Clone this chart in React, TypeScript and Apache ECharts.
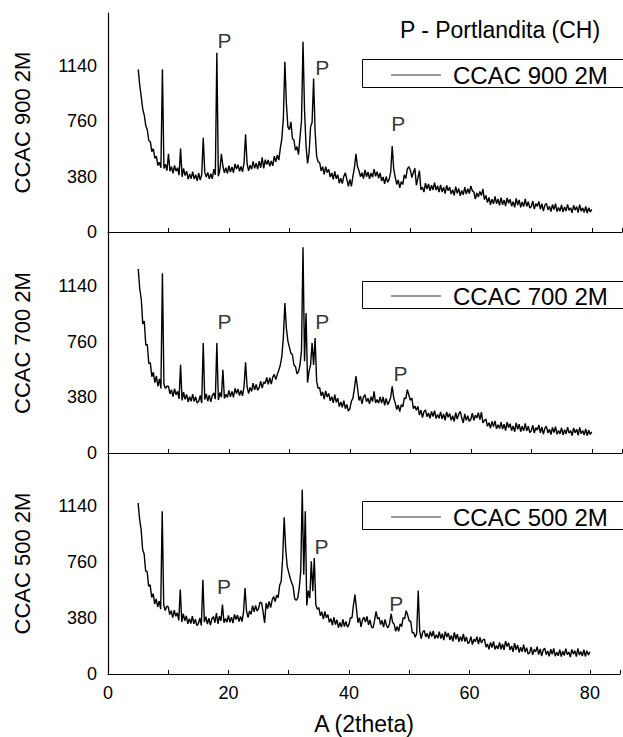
import React, { useEffect, useRef } from 'react';
import * as echarts from 'echarts';

const FONT = '"Liberation Sans", Arial, Helvetica, sans-serif';

// 2theta grid of the scans: first angle and step (degrees)
const X_START = 5;
const X_STEP = 0.25;

// Intensities, 5.00 .. 80.00 deg, step 0.25 deg (20 values per row = 5 deg)
const CCAC900 = [
  1114, 1005, 925, 840, 800, 728, 700, 625, 618, 550, 570, 505, 520, 455, 478, 440, 1114, 435, 465, 420,
  535, 416, 447, 402, 456, 417, 440, 389, 572, 378, 435, 386, 417, 362, 398, 365, 414, 362, 393, 351,
  403, 356, 392, 646, 410, 377, 408, 364, 399, 364, 430, 391, 1228, 382, 425, 535, 452, 405, 440, 401,
  455, 410, 446, 406, 466, 432, 461, 416, 449, 412, 475, 669, 468, 419, 458, 430, 484, 436, 471, 431,
  485, 440, 512, 435, 496, 462, 493, 450, 486, 453, 520, 481, 527, 492, 575, 640, 780, 1166, 880, 720,
  700, 755, 640, 630, 560, 585, 530, 650, 760, 1303, 836, 590, 470, 540, 720, 750, 1052, 690, 520, 480,
  475, 418, 447, 395, 448, 407, 430, 376, 404, 360, 415, 364, 392, 334, 368, 332, 382, 405, 360, 313,
  360, 313, 382, 440, 535, 450, 420, 379, 406, 366, 425, 379, 412, 364, 405, 375, 430, 382, 413, 368,
  405, 350, 377, 330, 380, 340, 362, 410, 589, 430, 375, 326, 357, 302, 345, 325, 392, 367, 430, 447,
  425, 373, 407, 436, 320, 370, 420, 290, 306, 273, 335, 294, 330, 282, 320, 288, 338, 287, 317, 273,
  323, 274, 307, 263, 320, 282, 308, 260, 290, 250, 310, 264, 299, 248, 285, 255, 308, 260, 297, 263,
  315, 282, 274, 225, 268, 240, 278, 250, 295, 222, 250, 201, 237, 187, 224, 193, 244, 194, 226, 183,
  235, 187, 220, 177, 234, 197, 224, 177, 208, 169, 230, 185, 220, 169, 206, 175, 226, 175, 207, 164,
  175, 212, 158, 194, 176, 210, 156, 194, 144, 184, 196, 151, 176, 140, 188, 153, 194, 140, 168, 143,
  185, 136, 172, 143, 189, 148, 166, 131, 183, 150, 174, 133, 187, 143, 165, 134, 176, 130, 167, 137,
  155,
];

const CCAC700 = [
  1255, 1120, 1050, 880, 900, 735, 740, 610, 615, 520, 550, 480, 525, 455, 505, 440, 1226, 470, 440, 455,
  455, 403, 432, 385, 438, 397, 420, 369, 601, 358, 415, 366, 400, 348, 384, 352, 402, 351, 383, 340,
  352, 392, 341, 750, 365, 403, 353, 395, 349, 393, 409, 367, 750, 361, 412, 380, 568, 371, 401, 379,
  427, 383, 420, 380, 440, 406, 436, 392, 426, 390, 455, 618, 452, 405, 447, 420, 477, 430, 467, 428,
  445, 489, 442, 485, 474, 515, 468, 513, 470, 517, 536, 500, 536, 566, 600, 660, 790, 1022, 850, 763,
  720, 680, 670, 600, 590, 540, 555, 600, 700, 1402, 625, 954, 480, 560, 600, 750, 600, 784, 490, 440,
  445, 390, 417, 368, 423, 382, 406, 356, 384, 342, 398, 346, 374, 317, 348, 312, 357, 302, 331, 285,
  303, 354, 372, 440, 525, 450, 358, 388, 335, 382, 398, 350, 373, 335, 384, 350, 420, 341, 364, 340,
  383, 340, 382, 325, 373, 330, 350, 380, 454, 375, 340, 296, 327, 282, 330, 315, 375, 370, 432, 395,
  360, 374, 302, 320, 292, 318, 258, 293, 242, 282, 294, 248, 273, 237, 284, 249, 289, 235, 262, 237,
  281, 233, 266, 223, 280, 243, 270, 223, 254, 215, 276, 231, 266, 284, 240, 205, 267, 222, 255, 215,
  230, 272, 222, 258, 239, 275, 228, 279, 205, 222, 231, 182, 206, 169, 216, 180, 219, 165, 192, 167,
  211, 163, 196, 153, 210, 173, 200, 153, 184, 145, 206, 161, 196, 145, 182, 151, 202, 151, 183, 140,
  151, 189, 136, 173, 156, 191, 138, 177, 128, 169, 182, 137, 162, 126, 174, 140, 180, 127, 154, 130,
  172, 123, 159, 130, 176, 136, 153, 119, 171, 138, 162, 121, 175, 131, 153, 123, 164, 118, 156, 126,
  145,
];

const CCAC500 = [
  1161, 1050, 980, 845, 815, 700, 695, 595, 605, 520, 545, 475, 510, 455, 495, 440, 1104, 470, 430, 460,
  455, 403, 430, 382, 434, 392, 415, 364, 573, 353, 410, 362, 394, 340, 375, 342, 392, 340, 372, 329,
  341, 380, 329, 640, 352, 389, 338, 379, 332, 375, 390, 348, 414, 341, 392, 360, 471, 348, 376, 352,
  397, 351, 386, 345, 404, 370, 400, 356, 391, 356, 422, 584, 427, 382, 428, 405, 464, 422, 465, 428,
  445, 489, 482, 420, 346, 480, 443, 493, 450, 502, 526, 492, 535, 518, 602, 628, 789, 1063, 850, 731,
  690, 650, 620, 590, 510, 500, 515, 584, 700, 1251, 674, 1104, 465, 565, 515, 765, 562, 788, 470, 440,
  450, 396, 422, 373, 424, 382, 403, 351, 376, 331, 386, 336, 368, 314, 350, 318, 370, 322, 357, 318,
  335, 382, 380, 468, 539, 440, 348, 383, 320, 367, 386, 352, 391, 333, 367, 318, 313, 362, 425, 375,
  385, 336, 364, 318, 370, 327, 313, 345, 409, 350, 340, 290, 322, 290, 340, 322, 382, 375, 430, 400,
  360, 359, 280, 282, 250, 275, 566, 290, 240, 284, 296, 252, 276, 241, 288, 254, 293, 240, 266, 242,
  287, 240, 273, 230, 288, 251, 278, 231, 262, 222, 282, 236, 270, 218, 254, 222, 272, 220, 251, 207,
  217, 254, 200, 236, 219, 254, 203, 248, 210, 232, 236, 182, 204, 167, 215, 180, 221, 167, 194, 170,
  215, 168, 204, 164, 224, 187, 212, 162, 191, 150, 210, 164, 198, 146, 182, 150, 200, 148, 179, 135,
  145, 183, 130, 167, 150, 185, 132, 171, 122, 163, 176, 131, 156, 120, 168, 134, 174, 121, 148, 124,
  166, 118, 154, 126, 172, 132, 149, 115, 167, 135, 159, 118, 173, 129, 152, 122, 165, 119, 158, 128,
  150,
];

const SERIES_NAMES = ['CCAC 900 2M', 'CCAC 700 2M', 'CCAC 500 2M'];
const SERIES_DATA = [CCAC900, CCAC700, CCAC500];

const Y_TICKS = [0, 380, 760, 1140];
const X_TICKS = [0, 20, 40, 60, 80];

// "P" (portlandite) annotation positions, in data coordinates [2theta, intensity]
const P_MARKS_900 = [[19.25, 1315], [35.45, 1127], [48.0, 740]];
const P_MARKS_700 = [[19.25, 900], [35.45, 900], [48.35, 539]];
const P_MARKS_500 = [[19.25, 597], [35.45, 866], [47.85, 479]];
const P_MARKS = [P_MARKS_900, P_MARKS_700, P_MARKS_500];

const TITLE = 'P - Portlandita (CH)';
const X_NAME = 'A (2theta)';

export default function App() {
  const ref = useRef<HTMLDivElement>(null);

  useEffect(() => {
    const chart = echarts.init(ref.current!, null, { renderer: 'svg' });
    const toPairs = (ys: number[]) => ys.map((y, i) => [X_START + i * X_STEP, y]);

    const grids = [
      { left: 108, top: 13, width: 514, height: 219 },
      { left: 108, top: 233, width: 514, height: 220 },
      { left: 108, top: 453, width: 514, height: 221 },
    ];

    const xAxes = grids.map((_, i) => ({
      type: 'value',
      gridIndex: i,
      min: 0,
      max: 85,
      interval: 10,
      axisLine: { show: true, onZero: false, lineStyle: { color: '#000', width: 1.2 } },
      axisTick: { show: true, inside: true, length: 4, lineStyle: { color: '#000' } },
      splitLine: { show: false },
      axisLabel: {
        show: i === 2,
        fontSize: 18,
        fontFamily: FONT,
        color: '#000',
        margin: 10,
        formatter: (v: number) => (X_TICKS.includes(v) ? String(v) : ''),
      },
      name: i === 2 ? X_NAME : '',
      nameLocation: 'middle',
      nameGap: 38,
      nameTextStyle: { fontSize: 23, fontFamily: FONT, color: '#000' },
    }));

    const yAxes = grids.map((_, i) => ({
      type: 'value',
      gridIndex: i,
      min: 0,
      max: 1500,
      interval: 380,
      axisLine: { show: true, onZero: false, lineStyle: { color: '#000', width: 1.2 } },
      axisTick: { show: false },
      splitLine: { show: false },
      axisLabel: {
        fontSize: 18,
        fontFamily: FONT,
        color: '#000',
        margin: 11,
        formatter: (v: number) => (Y_TICKS.includes(v) ? String(v) : ''),
      },
      name: SERIES_NAMES[i],
      nameLocation: 'middle',
      nameRotate: 90,
      nameGap: 75,
      nameTextStyle: { fontSize: 22, fontFamily: FONT, color: '#000' },
    }));

    const lineSeries = SERIES_DATA.map((ys, i) => ({
      type: 'line',
      name: SERIES_NAMES[i],
      xAxisIndex: i,
      yAxisIndex: i,
      data: toPairs(ys),
      showSymbol: false,
      symbol: 'none',
      silent: true,
      lineStyle: { color: '#000', width: 1.4 },
    }));

    const pSeries = P_MARKS.map((marks, i) => ({
      type: 'scatter',
      xAxisIndex: i,
      yAxisIndex: i,
      data: marks,
      symbolSize: 1,
      silent: true,
      itemStyle: { color: 'rgba(0,0,0,0)' },
      label: {
        show: true,
        position: 'inside',
        formatter: 'P',
        fontSize: 21,
        fontFamily: FONT,
        color: '#000',
      },
    }));

    const legendBoxes = [
      { top: 59, h: 28, ly: 75 },
      { top: 281, h: 27, ly: 296 },
      { top: 501, h: 28, ly: 517 },
    ];

    const graphic: any[] = [
      {
        type: 'text',
        x: 500,
        y: 30,
        style: {
          text: TITLE,
          fontSize: 23,
          fontFamily: FONT,
          fill: '#000',
          align: 'center',
          verticalAlign: 'middle',
          textAlign: 'center',
          textVerticalAlign: 'middle',
        },
      },
    ];
    legendBoxes.forEach((b, i) => {
      graphic.push({
        type: 'rect',
        shape: { x: 362.5, y: b.top + 0.5, width: 280, height: b.h },
        style: { fill: '#fff', stroke: '#000', lineWidth: 1 },
      });
      graphic.push({
        type: 'line',
        shape: { x1: 391, y1: b.ly, x2: 441, y2: b.ly },
        style: { stroke: '#777', lineWidth: 1.5 },
      });
      graphic.push({
        type: 'text',
        x: 453,
        y: b.ly,
        style: {
          text: SERIES_NAMES[i],
          fontSize: 24,
          fontFamily: FONT,
          fill: '#000',
          verticalAlign: 'middle',
          textVerticalAlign: 'middle',
        },
      });
    });

    chart.setOption({
      animation: false,
      backgroundColor: '#fff',
      grid: grids,
      xAxis: xAxes,
      yAxis: yAxes,
      series: [...lineSeries, ...pSeries],
      graphic,
    } as any);

    return () => chart.dispose();
  }, []);

  return (
    <div
      ref={ref}
      style={{ position: 'absolute', left: 0, top: 0, width: 623, height: 737, background: '#fff' }}
    />
  );
}
